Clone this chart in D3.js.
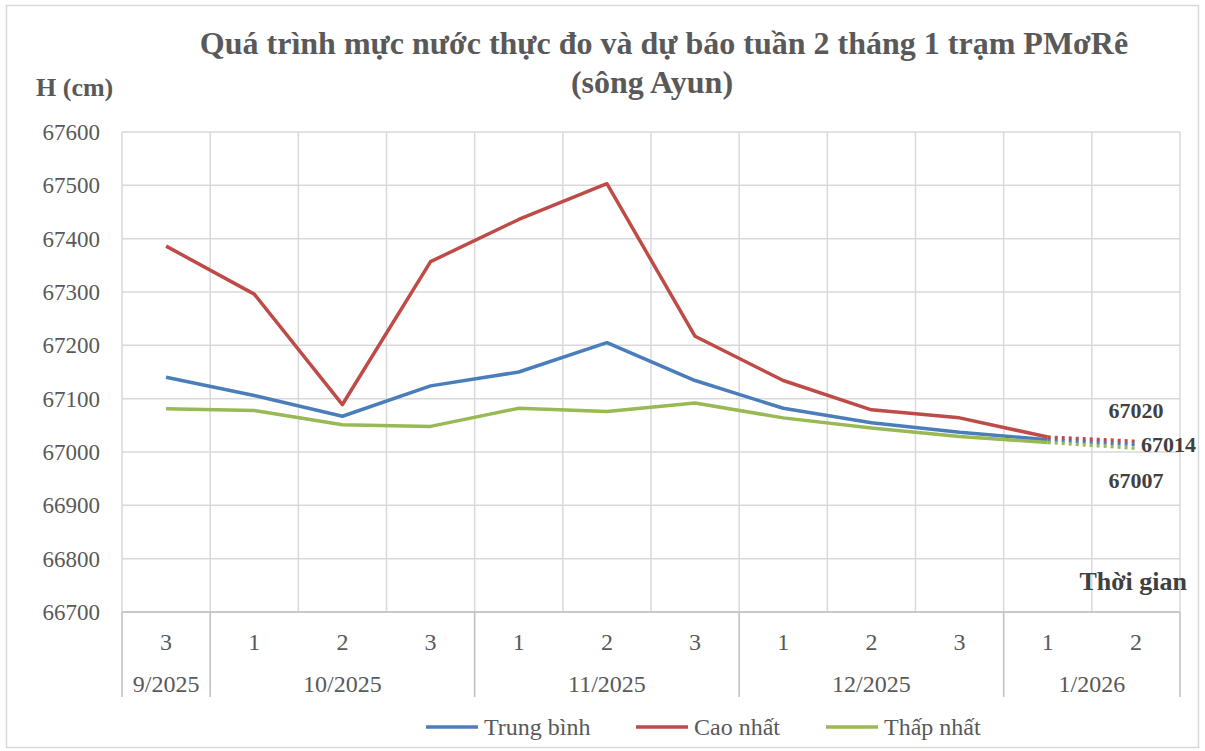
<!DOCTYPE html>
<html>
<head>
<meta charset="utf-8">
<script src="https://cdn.jsdelivr.net/npm/d3@7"></script>
<style>
  body { margin: 0; background: #fff; }
  svg text { font-family: "Liberation Serif", "Times New Roman", serif; }
</style>
</head>
<body>
<div id="chart"></div>
<script>
// categories: week of month, and month groups
const weeks = ["3", "1", "2", "3", "1", "2", "3", "1", "2", "3", "1", "2"];
const months = ["9/2025", "10/2025", "11/2025", "12/2025", "1/2026"];
const monthSpans = [1, 3, 3, 3, 2];

// water level (cm); last point is the forecast
const trungBinh = [67140, 67106, 67067, 67124, 67150, 67205, 67134, 67082, 67055, 67037, 67023, 67014];
const caoNhat   = [67386, 67296, 67089, 67357, 67436, 67503, 67217, 67134, 67079, 67064, 67028, 67020];
const thapNhat  = [67081, 67078, 67051, 67048, 67082, 67076, 67092, 67064, 67045, 67029, 67018, 67007];

const yTicks = [66700, 66800, 66900, 67000, 67100, 67200, 67300, 67400, 67500, 67600];

const series = [
    {name: "Trung bình", values: trungBinh, color: "#4a7ebb", labelDx: 5, labelDy: 0, anchor: "start"},
    {name: "Cao nhất", values: caoNhat, color: "#be4b48", labelDx: 0, labelDy: -31, anchor: "middle"},
    {name: "Thấp nhất", values: thapNhat, color: "#98b954", labelDx: 0, labelDy: 32, anchor: "middle"}
];

const W = 1205, H = 751;
const margin = {top: 132, right: 25, bottom: 139, left: 122};
const width = W - margin.left - margin.right,
      height = H - margin.top - margin.bottom;

const svg = d3.select("#chart").append("svg")
    .attr("width", W)
    .attr("height", H);

// outer chart border
svg.append("rect")
    .attr("x", 6.5).attr("y", 5.5)
    .attr("width", 1192).attr("height", 742)
    .attr("fill", "white")
    .attr("stroke", "#d9d9d9")
    .attr("stroke-width", 1.5);

const textGray = "#595959";

svg.append("text")
    .attr("x", 664).attr("y", 54)
    .attr("text-anchor", "middle")
    .attr("font-size", 32).attr("font-weight", "bold")
    .attr("fill", textGray)
    .text("Quá trình mực nước thực đo và dự báo tuần 2 tháng 1 trạm PMơRê");
svg.append("text")
    .attr("x", 652).attr("y", 93)
    .attr("text-anchor", "middle")
    .attr("font-size", 32).attr("font-weight", "bold")
    .attr("fill", textGray)
    .text("(sông Ayun)");

svg.append("text")
    .attr("x", 36).attr("y", 96)
    .attr("font-size", 26).attr("font-weight", "bold")
    .attr("fill", textGray)
    .text("H (cm)");

const g = svg.append("g").attr("transform", `translate(${margin.left},${margin.top})`);

let x = d3.scaleBand()
    .domain(d3.range(weeks.length))
    .range([0, width])
    .padding(0);

let y = d3.scaleLinear()
    .domain([66700, 67600])
    .range([height, 0]);

const gridColor = "#d9d9d9";

// horizontal gridlines
g.selectAll(".hgrid")
    .data(yTicks)
    .enter().append("line")
    .attr("x1", 0).attr("x2", width)
    .attr("y1", d => y(d)).attr("y2", d => y(d))
    .attr("stroke", gridColor)
    .attr("stroke-width", 1.5);

// vertical gridlines between categories
g.selectAll(".vgrid")
    .data(d3.range(weeks.length + 1))
    .enter().append("line")
    .attr("x1", d => d < weeks.length ? x(d) : width)
    .attr("x2", d => d < weeks.length ? x(d) : width)
    .attr("y1", 0).attr("y2", height)
    .attr("stroke", gridColor)
    .attr("stroke-width", 1.5);

// y axis labels
g.selectAll(".ylab")
    .data(yTicks)
    .enter().append("text")
    .attr("x", -22)
    .attr("y", d => y(d))
    .attr("dy", "0.35em")
    .attr("text-anchor", "end")
    .attr("font-size", 23)
    .attr("fill", textGray)
    .text(d => d);

// x axis line
const axisColor = "#bfbfbf";
g.append("line")
    .attr("x1", 0).attr("x2", width)
    .attr("y1", height).attr("y2", height)
    .attr("stroke", axisColor)
    .attr("stroke-width", 1.5);

// month group separators
let bounds = [0];
monthSpans.forEach(n => bounds.push(bounds[bounds.length - 1] + n));
g.selectAll(".msep")
    .data(bounds)
    .enter().append("line")
    .attr("x1", d => d < weeks.length ? x(d) : width)
    .attr("x2", d => d < weeks.length ? x(d) : width)
    .attr("y1", height).attr("y2", height + 85)
    .attr("stroke", axisColor)
    .attr("stroke-width", 1.5);

// week labels
g.selectAll(".wlab")
    .data(weeks)
    .enter().append("text")
    .attr("x", (d, i) => x(i) + x.bandwidth() / 2)
    .attr("y", height + 30)
    .attr("dy", "0.35em")
    .attr("text-anchor", "middle")
    .attr("font-size", 24)
    .attr("fill", textGray)
    .text(d => d);

// month labels
g.selectAll(".mlab")
    .data(months)
    .enter().append("text")
    .attr("x", (d, i) => {
        let a = x(bounds[i]);
        let b = bounds[i + 1] < weeks.length ? x(bounds[i + 1]) : width;
        return (a + b) / 2;
    })
    .attr("y", height + 72)
    .attr("dy", "0.35em")
    .attr("text-anchor", "middle")
    .attr("font-size", 24)
    .attr("fill", textGray)
    .text(d => d);

g.append("text")
    .attr("x", width + 7)
    .attr("y", height - 22)
    .attr("text-anchor", "end")
    .attr("font-size", 26).attr("font-weight", "bold")
    .attr("fill", "#404040")
    .text("Thời gian");

const line = d3.line()
    .x((d, i) => x(i) + x.bandwidth() / 2)
    .y(d => y(d));

const last = weeks.length - 1;
series.forEach(s => {
    // measured part
    g.append("path")
        .datum(s.values.slice(0, last))
        .attr("d", line)
        .attr("fill", "none")
        .attr("stroke", s.color)
        .attr("stroke-width", 3.5)
        .attr("stroke-linejoin", "round");
    // forecast part, dotted
    g.append("path")
        .datum([s.values[last - 1], s.values[last]])
        .attr("d", d3.line()
            .x((d, i) => x(last - 1 + i) + x.bandwidth() / 2)
            .y(d => y(d)))
        .attr("fill", "none")
        .attr("stroke", s.color)
        .attr("stroke-width", 3.5)
        .attr("stroke-dasharray", "3,4");
});

// forecast labels
series.forEach(s => {
    g.append("text")
        .attr("x", x(last) + x.bandwidth() / 2 + s.labelDx)
        .attr("y", y(s.values[last]) + s.labelDy)
        .attr("dy", "0.35em")
        .attr("text-anchor", s.anchor)
        .attr("font-size", 22).attr("font-weight", "bold")
        .attr("fill", "#404040")
        .text(s.values[last]);
});

// legend
const legendX = [426, 636, 826];
const legend = svg.selectAll(".legend")
    .data(series)
    .enter().append("g")
    .attr("transform", (d, i) => `translate(${legendX[i]},727)`);
legend.append("line")
    .attr("x1", 0).attr("x2", 52)
    .attr("stroke", d => d.color)
    .attr("stroke-width", 3.5);
legend.append("text")
    .attr("x", 58)
    .attr("dy", "0.35em")
    .attr("font-size", 24)
    .attr("fill", textGray)
    .text(d => d.name);
</script>
</body>
</html>
